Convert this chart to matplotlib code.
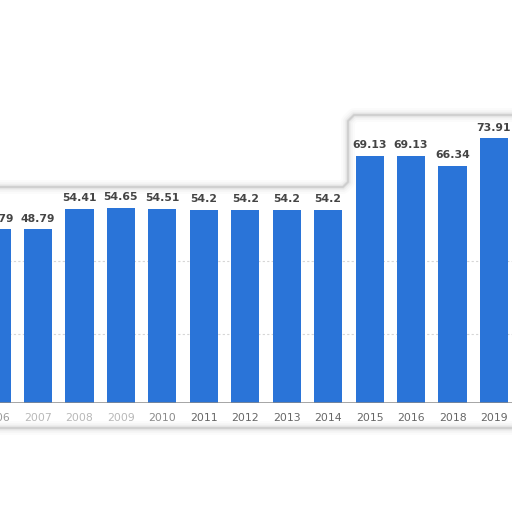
import numpy as np
import matplotlib
matplotlib.use("Agg")
import matplotlib.pyplot as plt
from matplotlib.path import Path
from matplotlib.patches import PathPatch

years = ["2006", "2007", "2008", "2009", "2010", "2011", "2012",
         "2013", "2014", "2015", "2016", "2018", "2019"]
values = [48.79, 48.79, 54.41, 54.65, 54.51, 54.2, 54.2,
          54.2, 54.2, 69.13, 69.13, 66.34, 73.91]
labels = ["48.79", "48.79", "54.41", "54.65", "54.51", "54.2", "54.2",
          "54.2", "54.2", "69.13", "69.13", "66.34", "73.91"]

W = H = 512
zero_px = 406.0      # pixel row of y = 0 (from top)
axis_px = 403.0      # pixel row of the visible base line
px_per_unit = 3.62
fig = plt.figure(figsize=(5.12, 5.12), dpi=100)
ax = fig.add_axes([0, (H - axis_px) / H, 1, axis_px / H])

x = np.arange(len(years))
ax.bar(x, values, width=0.68, color="#2a74d8", zorder=2)
ax.set_xlim(0.083, 12.435)
y_lo = (zero_px - axis_px) / px_per_unit
ax.set_ylim(y_lo, zero_px / px_per_unit)

for g in [20, 40]:
    ax.axhline(g, color="#d6d6d6", lw=0.8, ls=(0, (2, 2)), zorder=1)
ax.axhline(y_lo, color="#8a8a8a", lw=1.8, zorder=3)

for xi, v, lab in zip(x, values, labels):
    ax.text(xi, v + 1.6, lab, ha="center", va="bottom", fontsize=7.8,
            fontweight="bold", color="#444444", clip_on=False, zorder=4)

tick_colors = ["#9a9a9a", "#b8b8b8", "#b8b8b8", "#b8b8b8", "#8a8a8a"] + ["#666666"] * 8
for xi, yr, c in zip(x, years, tick_colors):
    ax.text(xi, y_lo - 4.1, yr, ha="center", va="center", fontsize=7.8,
            color=c, clip_on=False)

ax.axis("off")

# blurred highlight frame around the chart (pixel coords, y from top)
pts = [(-10, 187), (343, 187), (348, 182), (348, 121), (354, 115),
       (525, 115), (525, 428), (-10, 428), (-10, 187)]
verts = [(px / W, 1 - py / H) for px, py in pts]
codes = [Path.MOVETO] + [Path.LINETO] * (len(verts) - 2) + [Path.CLOSEPOLY]
frame = Path(verts, codes)
for lw, a in [(10, 0.025), (7, 0.04), (4.5, 0.06), (2.5, 0.1), (1.2, 0.18)]:
    fig.patches.append(PathPatch(frame, transform=fig.transFigure,
                                 facecolor="none", edgecolor="#777777",
                                 lw=lw, alpha=a, joinstyle="round"))

fig.savefig("out.png", dpi=100)
